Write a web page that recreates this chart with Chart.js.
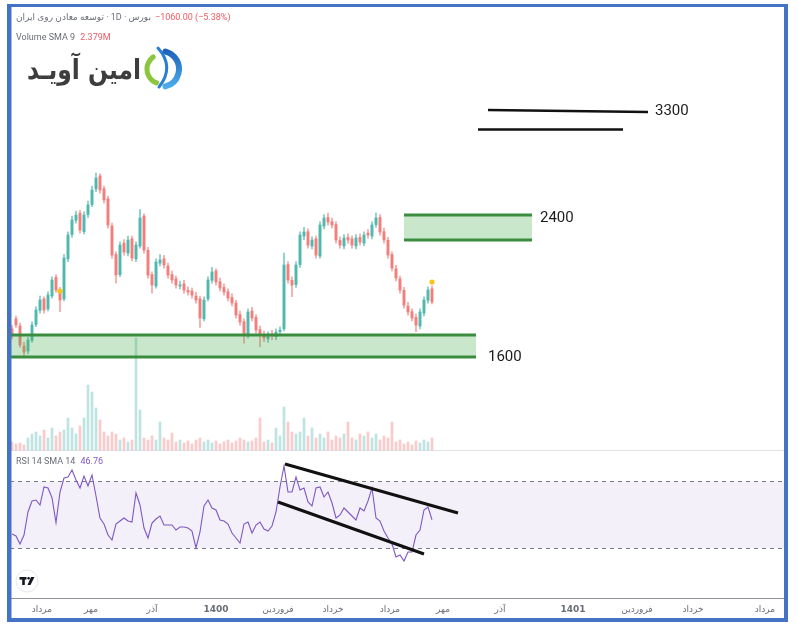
<!DOCTYPE html>
<html>
<head>
<meta charset="utf-8">
<script src="https://cdn.jsdelivr.net/npm/chart.js@4.4.1/dist/chart.umd.min.js"></script>
<style>
  html, body { margin: 0; padding: 0; background: #ffffff; }
  #wrap { width: 797px; height: 631px; }
</style>
</head>
<body>
<div id="wrap"><canvas id="chart" width="797" height="631"></canvas></div>
<script>
// daily candles (one entry per bar, oldest first)
var opens = [1720,1790,1740,1600,1565,1640,1750,1850,1930,1860,
             1950,2080,1990,1930,2210,2380,2480,2530,2400,2520,
             2590,2700,2790,2700,2630,2440,2240,2100,2320,2250,
             2350,2210,2300,2510,2270,2100,2020,2180,2210,2160,
             2100,2070,2020,2035,1990,1985,1950,1930,1790,1930,
             2060,2125,2050,2010,1980,1940,1900,1820,1770,1670,
             1845,1800,1715,1680,1650,1685,1665,1700,1720,2170,
             2060,2030,2170,2370,2400,2300,2350,2230,2440,2500,
             2470,2450,2340,2300,2360,2350,2300,2360,2320,2390,
             2370,2450,2500,2400,2340,2240,2140,2070,1990,1880,
             1840,1800,1740,1830,1920,2000];
var closes = [1677,1747,1607,1558,1642,1747,1852,1922,1852,1957,
              2062,1992,1922,2216,2377,2482,2517,2412,2517,2587,
              2692,2776,2692,2622,2447,2237,2097,2307,2258,2342,
              2216,2307,2496,2272,2097,2027,2188,2202,2167,2097,
              2062,2027,2027,1992,1978,1957,1922,1796,1922,2062,
              2118,2048,2006,1978,1936,1901,1817,1768,1677,1838,
              1796,1712,1677,1656,1677,1670,1698,1712,2167,2062,
              2027,2167,2377,2398,2307,2342,2237,2447,2496,2468,
              2447,2342,2307,2356,2342,2307,2356,2328,2377,2377,
              2447,2496,2398,2342,2237,2146,2076,1992,1887,1838,
              1796,1747,1838,1922,1992,1908];
var highs = [1745,1810,1760,1625,1660,1770,1875,1950,1945,1980,
             2085,2100,2010,2240,2400,2510,2545,2550,2540,2615,
             2720,2810,2805,2720,2650,2460,2260,2330,2345,2370,
             2370,2330,2555,2525,2290,2120,2210,2240,2235,2180,
             2125,2090,2055,2060,2015,2005,1975,1950,1945,2085,
             2150,2140,2075,2035,2000,1965,1920,1845,1790,1860,
             1870,1820,1740,1705,1700,1710,1720,1735,2250,2190,
             2085,2190,2400,2430,2420,2365,2370,2470,2520,2531,
             2495,2470,2365,2380,2385,2370,2380,2385,2400,2415,
             2470,2531,2520,2425,2360,2260,2165,2090,2010,1905,
             1860,1825,1860,1945,2015,2020];
var lows = [1650,1730,1590,1525,1545,1625,1735,1830,1830,1845,
            1935,1975,1840,1915,2190,2360,2460,2390,2385,2500,
            2575,2680,2670,2600,2425,2215,2040,2085,2235,2230,
            2195,2190,2285,2250,2075,1970,2005,2160,2145,2075,
            2040,2005,2000,1970,1955,1935,1900,1730,1775,1915,
            2040,2025,1985,1955,1915,1880,1795,1745,1620,1655,
            1775,1690,1595,1630,1625,1645,1645,1680,1705,2040,
            1945,2010,2150,2345,2285,2280,2215,2215,2420,2445,
            2425,2320,2285,2280,2320,2285,2280,2305,2300,2355,
            2350,2430,2375,2320,2215,2125,2055,1970,1865,1815,
            1775,1700,1720,1810,1900,1895];
// volume in millions of shares
var volumes = [1.6,1.2,1.4,1.0,2.4,3.2,3.6,2.8,4.0,2.4,
               4.4,2.8,3.6,4.0,6.4,4.4,3.2,4.8,6.4,13.0,
               11.6,8.4,6.0,3.6,2.8,3.6,3.2,2.0,2.4,1.6,
               2.0,22.4,8.0,2.4,2.0,2.8,2.0,5.6,2.4,2.0,
               3.4,1.6,2.0,1.4,1.8,1.2,2.0,2.4,1.6,2.0,
               1.4,1.8,1.2,1.6,2.0,1.4,1.8,2.4,2.0,1.6,
               1.8,2.4,6.4,1.6,2.0,1.4,4.4,2.8,8.6,5.6,
               3.6,3.2,3.6,6.4,2.8,4.4,2.4,3.2,2.4,3.6,
               2.0,2.8,2.4,3.2,5.6,2.4,2.0,3.2,2.8,3.6,
               2.4,3.2,2.0,2.8,2.4,5.6,1.6,2.0,1.2,1.6,
               1.0,1.8,1.4,2.0,1.6,2.4];
// RSI(14)
var rsiValues = [38.2,37.0,32.2,37.6,51.4,58.0,58.6,55.6,66.4,65.8,
                 60.0,45.0,63.4,71.8,72.4,76.6,70.6,65.8,73.0,67.0,
                 73.6,61.0,47.8,44.2,37.6,34.6,44.2,46.0,47.8,46.0,
                 45.4,62.8,55.6,41.8,35.8,44.8,47.2,49.0,43.6,43.6,
                 43.6,40.6,42.4,42.4,41.8,40.0,29.8,39.4,55.0,58.6,
                 53.8,52.6,46.6,46.0,44.2,38.8,35.8,32.8,44.2,45.4,
                 38.8,43.6,45.4,41.2,40.0,43.0,51.4,66.4,79.0,63.4,
                 63.4,72.4,64.6,65.8,57.4,55.0,65.8,66.4,60.4,63.4,
                 56.8,47.8,49.6,53.8,51.4,49.0,46.6,53.8,52.0,58.0,
                 65.8,47.8,46.0,40.0,35.8,32.2,24.4,25.6,22.0,27.4,
                 27.4,37.6,40.6,52.6,54.4,46.76];
// event markers on the price pane
var markerIndex = [12, 105];
var markerPrice = [1985, 2048];

// time axis (bar position of each month label)
var monthTicks = [7.5, 19.75, 35.0, 51.0, 66.5, 80.25, 94.5, 107.75, 122.0, 140.25, 156.25, 170.25, 188.25];
var monthLabels = ['مرداد', 'مهر', 'آذر', '1400', 'فروردین', 'خرداد', 'مرداد', 'مهر', 'آذر', '1401', 'فروردین', 'خرداد', 'مرداد'];

// hand drawn analysis
var supportZone = {from: -0.5, to: 116, low: 1523, high: 1677, label: '1600', labelX: 119, labelY: 1523};
var resistZone = {from: 98, to: 130, low: 2342, high: 2517, label: '2400', labelX: 132, labelY: 2496};
var targetLineA = [{x: 119, y: 3252}, {x: 159, y: 3238}];
var targetLineB = [{x: 116.5, y: 3116}, {x: 152.75, y: 3116}];
var targetLabel = {label: '3300', x: 160.75, y: 3245};
var rsiUpperTrend = [{x: 68.25, y: 80.2}, {x: 111.5, y: 50.8}];
var rsiLowerTrend = [{x: 66.5, y: 57.4}, {x: 103, y: 26.2}];

var upColor = 'rgba(38, 166, 154, 0.6)';
var downColor = 'rgba(239, 83, 80, 0.55)';
var volUp = 'rgba(38, 166, 154, 0.3)';
var volDown = 'rgba(239, 83, 80, 0.3)';
var uiFont = 'Roboto, "DejaVu Sans", sans-serif';
var faFont = '"DejaVu Sans", sans-serif';

function isUp(i) { return closes[i] >= opens[i]; }

var bodies = closes.map(function(c, i) { return {x: i, y: [opens[i], c]}; });
var wicks = closes.map(function(c, i) { return {x: i, y: [lows[i], highs[i]]}; });
var volumeBars = volumes.map(function(v, i) { return {x: i, y: v}; });
var rsiLine = rsiValues.map(function(v, i) { return {x: i, y: v}; });
var markers = markerIndex.map(function(ix, k) { return {x: ix, y: markerPrice[k]}; });

function drawZone(ctx, s, z) {
    var x0 = s.x.getPixelForValue(z.from), x1 = s.x.getPixelForValue(z.to);
    var yTop = s.y.getPixelForValue(z.high), yBot = s.y.getPixelForValue(z.low);
    ctx.fillStyle = 'rgba(76, 175, 80, 0.3)';
    ctx.fillRect(x0, yTop, x1 - x0, yBot - yTop);
    ctx.strokeStyle = '#3a8d3e';
    ctx.lineWidth = 3;
    ctx.beginPath();
    ctx.moveTo(x0, yTop); ctx.lineTo(x1, yTop);
    ctx.moveTo(x0, yBot); ctx.lineTo(x1, yBot);
    ctx.stroke();
}

function drawLevelText(ctx, s, text, xv, yv) {
    ctx.fillStyle = '#1c1c1c';
    ctx.font = '15px ' + uiFont;
    ctx.textAlign = 'left';
    ctx.textBaseline = 'middle';
    ctx.fillText(text, s.x.getPixelForValue(xv), s.y.getPixelForValue(yv));
}

function drawLogo(ctx) {
    var word = 'امین آویـد';
    ctx.save();
    ctx.fillStyle = '#3d3d3d';
    ctx.font = 'bold 28px ' + faFont;
    ctx.textAlign = 'right';
    ctx.textBaseline = 'middle';
    var w = ctx.measureText(word).width;
    ctx.translate(141, 72);
    ctx.scale(114 / w, 1);
    ctx.fillText(word, 0, 0);
    ctx.restore();
    // swoosh icon
    ctx.lineCap = 'round';
    ctx.strokeStyle = '#8cc63e';
    ctx.lineWidth = 5;
    ctx.beginPath();
    ctx.arc(162, 69, 15, 0.62 * Math.PI, 1.3 * Math.PI);
    ctx.stroke();
    ctx.strokeStyle = '#2b7fd0';
    ctx.lineWidth = 3;
    ctx.beginPath();
    ctx.moveTo(158, 48);
    ctx.quadraticCurveTo(175, 67, 159, 87);
    ctx.stroke();
    var g = ctx.createLinearGradient(0, 49, 0, 89);
    g.addColorStop(0, '#1b5fb8');
    g.addColorStop(1, '#4fb0ee');
    ctx.strokeStyle = g;
    ctx.lineWidth = 6;
    ctx.beginPath();
    ctx.arc(161, 69, 18, -0.42 * Math.PI, 0.42 * Math.PI);
    ctx.stroke();
    ctx.lineCap = 'butt';
}

function drawTvBadge(ctx) {
    ctx.fillStyle = '#ffffff';
    ctx.strokeStyle = '#e6e7eb';
    ctx.lineWidth = 1;
    ctx.beginPath();
    ctx.arc(27, 581, 11, 0, Math.PI * 2);
    ctx.fill();
    ctx.stroke();
    ctx.fillStyle = '#131722';
    ctx.fillRect(19.5, 577, 7, 2.6);
    ctx.fillRect(22.2, 577, 2.6, 8);
    ctx.beginPath();
    ctx.arc(28.6, 578.3, 1.3, 0, Math.PI * 2);
    ctx.fill();
    ctx.beginPath();
    ctx.moveTo(31, 577); ctx.lineTo(34.5, 577); ctx.lineTo(30.5, 585); ctx.lineTo(27.5, 585);
    ctx.closePath();
    ctx.fill();
}

function drawHeader(ctx, s) {
    ctx.textAlign = 'left';
    ctx.textBaseline = 'middle';
    ctx.font = '9px ' + uiFont;
    var x = 16;
    ctx.fillStyle = '#6a6d78';
    ctx.fillText('توسعه معادن روی ایران', x, 18);
    x += ctx.measureText('توسعه معادن روی ایران').width;
    ctx.fillText(' · 1D · ', x, 18);
    x += ctx.measureText(' · 1D · ').width;
    ctx.fillText('بورس', x, 18);
    x += ctx.measureText('بورس').width + 4;
    ctx.fillStyle = '#ef5a63';
    ctx.fillText('\u22121060.00 (\u22125.38%)', x, 18);

    ctx.fillStyle = '#6a6d78';
    ctx.fillText('Volume SMA 9', 16, 38);
    ctx.fillStyle = '#ef5a63';
    ctx.fillText('2.379M', 16 + ctx.measureText('Volume SMA 9').width + 5, 38);

    var yr = s.rsi.top + 12;
    ctx.fillStyle = '#6a6d78';
    ctx.fillText('RSI 14 SMA 14', 16, yr);
    ctx.fillStyle = '#7e57c2';
    ctx.fillText('46.76', 16 + ctx.measureText('RSI 14 SMA 14').width + 5, yr);
}

function drawFrame(ctx) {
    ctx.fillStyle = '#4472c4';
    ctx.fillRect(7, 4, 781, 3);
    ctx.fillRect(7, 4, 4.5, 618);
    ctx.fillRect(784, 4, 4, 618);
    ctx.fillRect(7, 618, 781, 4);
}

var decor = {
    id: 'decor',
    beforeDraw: function(chart) {
        var ctx = chart.ctx;
        ctx.save();
        ctx.fillStyle = '#ffffff';
        ctx.fillRect(0, 0, chart.width, chart.height);
        ctx.restore();
    },
    beforeDatasetsDraw: function(chart) {
        var ctx = chart.ctx, a = chart.chartArea, s = chart.scales;
        var y70 = Math.round(s.rsi.getPixelForValue(70)) + 0.5;
        var y30 = Math.round(s.rsi.getPixelForValue(30)) + 0.5;
        ctx.save();
        ctx.fillStyle = 'rgba(126, 87, 194, 0.09)';
        ctx.fillRect(a.left, y70, a.right - a.left, y30 - y70);
        ctx.strokeStyle = '#787b86';
        ctx.lineWidth = 1;
        ctx.setLineDash([4, 4]);
        [y70, y30].forEach(function(y) {
            ctx.beginPath();
            ctx.moveTo(a.left, y);
            ctx.lineTo(a.right, y);
            ctx.stroke();
        });
        ctx.setLineDash([]);
        ctx.strokeStyle = '#e0e3eb';
        var ySep = Math.round(s.rsi.top) + 0.5;
        ctx.beginPath();
        ctx.moveTo(a.left, ySep);
        ctx.lineTo(a.right, ySep);
        ctx.stroke();
        ctx.restore();
    },
    afterDatasetsDraw: function(chart) {
        var ctx = chart.ctx, s = chart.scales;
        ctx.save();
        drawZone(ctx, s, supportZone);
        drawZone(ctx, s, resistZone);
        drawLevelText(ctx, s, supportZone.label, supportZone.labelX, supportZone.labelY);
        drawLevelText(ctx, s, resistZone.label, resistZone.labelX, resistZone.labelY);
        drawLevelText(ctx, s, targetLabel.label, targetLabel.x, targetLabel.y);
        ctx.restore();
    },
    afterDraw: function(chart) {
        var ctx = chart.ctx;
        ctx.save();
        drawHeader(ctx, chart.scales);
        drawLogo(ctx);
        drawTvBadge(ctx);
        drawFrame(ctx);
        ctx.restore();
    }
};

function hiddenAxis(extra) {
    var axis = {
        position: 'left',
        stack: 'panes',
        grid: {display: false, drawTicks: false},
        border: {display: false},
        ticks: {display: false},
        afterFit: function(scale) { scale.width = 0; }
    };
    Object.keys(extra).forEach(function(k) { axis[k] = extra[k]; });
    return axis;
}

new Chart(document.getElementById('chart'), {
    type: 'bar',
    data: {
        datasets: [{
            type: 'line', data: targetLineA, yAxisID: 'y',
            borderColor: '#111111', borderWidth: 2.5, pointRadius: 0
        }, {
            type: 'line', data: targetLineB, yAxisID: 'y',
            borderColor: '#111111', borderWidth: 2.5, pointRadius: 0
        }, {
            type: 'line', data: rsiUpperTrend, yAxisID: 'rsi',
            borderColor: '#111111', borderWidth: 3, pointRadius: 0
        }, {
            type: 'line', data: rsiLowerTrend, yAxisID: 'rsi',
            borderColor: '#111111', borderWidth: 3, pointRadius: 0
        }, {
            type: 'line', data: markers, yAxisID: 'y', showLine: false,
            pointRadius: 2.6, pointBackgroundColor: '#f5c518', pointBorderWidth: 0
        }, {
            type: 'line', data: rsiLine, yAxisID: 'rsi',
            borderColor: '#7e57c2', borderWidth: 1.1, pointRadius: 0, tension: 0
        }, {
            data: bodies, yAxisID: 'y', grouped: false, barThickness: 2.6, borderWidth: 0,
            backgroundColor: closes.map(function(c, i) { return isUp(i) ? upColor : downColor; })
        }, {
            data: wicks, yAxisID: 'y', grouped: false, barThickness: 1, borderWidth: 0,
            backgroundColor: closes.map(function(c, i) { return isUp(i) ? upColor : downColor; })
        }, {
            // tall sessions may rise above the volume strip into the price pane
            data: volumeBars, yAxisID: 'vol', grouped: false, barThickness: 2, borderWidth: 0, clip: false,
            backgroundColor: closes.map(function(c, i) { return isUp(i) ? volUp : volDown; })
        }]
    },
    options: {
        responsive: false,
        animation: false,
        events: [],
        layout: {autoPadding: false, padding: {top: 8, left: 10, right: 12, bottom: 13}},
        plugins: {legend: {display: false}, tooltip: {enabled: false}},
        scales: {
            x: {
                type: 'linear', min: -0.5, max: 193.25, offset: false,
                grid: {display: false, drawTicks: false, offset: false},
                border: {display: true, color: '#8f929b', width: 1},
                afterBuildTicks: function(scale) {
                    scale.ticks = monthTicks.map(function(v) { return {value: v}; });
                },
                afterFit: function(scale) {
                    scale.height = 20;
                    scale.paddingLeft = 0;
                    scale.paddingRight = 0;
                },
                ticks: {
                    autoSkip: false, maxRotation: 0, padding: 6, color: '#6a6d78',
                    font: function(c) {
                        var bold = /\d/.test(monthLabels[c.index] || '');
                        return {family: faFont, size: 9, weight: bold ? 'bold' : 'normal'};
                    },
                    callback: function(value, index) { return monthLabels[index]; }
                }
            },
            y: hiddenAxis({weight: 3, stackWeight: 377, min: 1327, max: 3966}),
            vol: hiddenAxis({weight: 2, stackWeight: 65, min: 0, max: 13}),
            rsi: hiddenAxis({weight: 1, stackWeight: 148, min: -0.2, max: 88.6})
        }
    },
    plugins: [decor]
});
</script>
</body>
</html>
